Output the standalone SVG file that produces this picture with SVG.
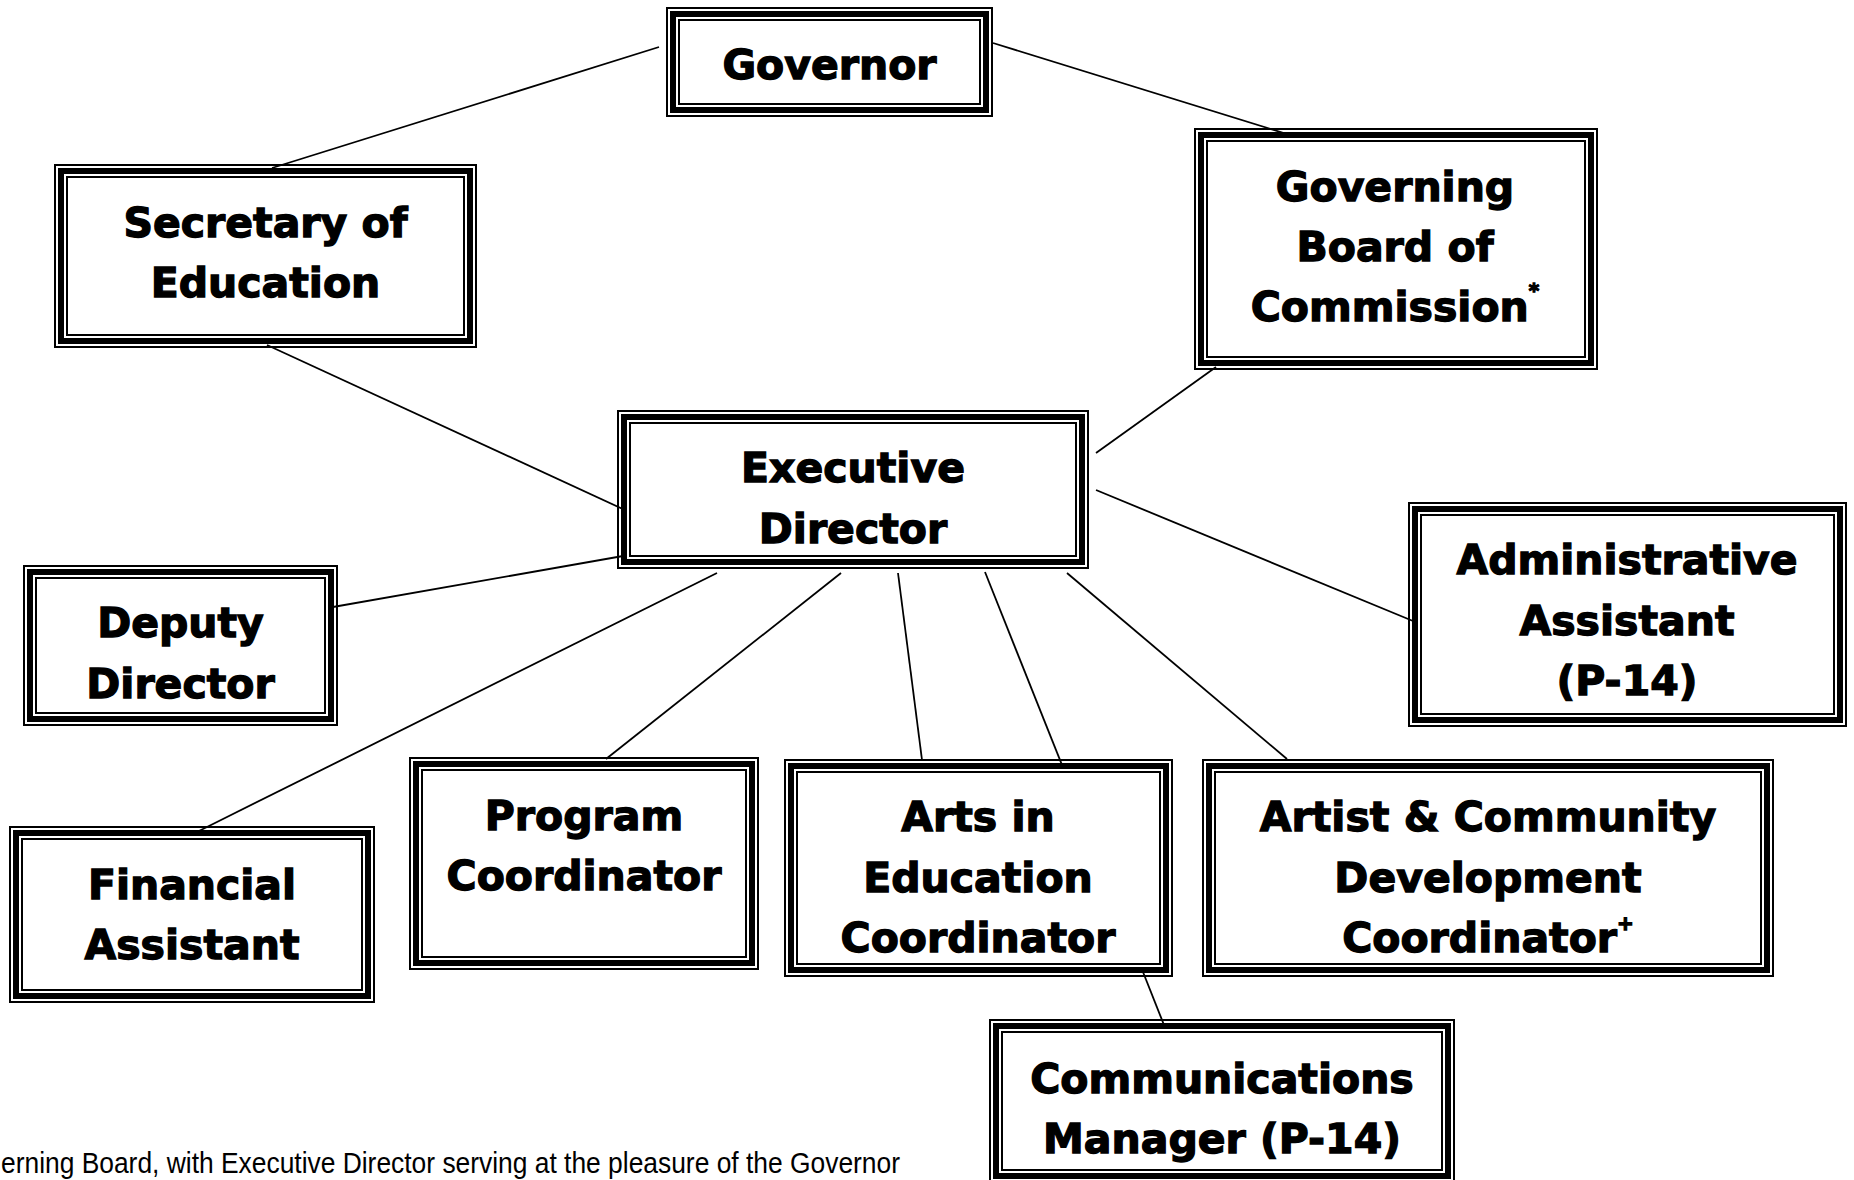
<svg xmlns="http://www.w3.org/2000/svg" width="1854" height="1180" viewBox="0 0 1854 1180">
<style>
.bg{fill:#fff;stroke:none}
.b1{fill:none;stroke:#000;stroke-width:2}
.b2{fill:none;stroke:#000;stroke-width:6}
.t{font-family:"DejaVu Sans","Liberation Sans",sans-serif;font-weight:bold;font-size:41px;fill:#000;stroke:#000;stroke-width:1.3;text-anchor:middle}
.sup{font-size:20px}
.c line{stroke:#000;stroke-width:1.8}
.note{font-family:"Liberation Sans Narrow","Liberation Sans",Arial,sans-serif;font-size:29px;fill:#000}
</style>
<rect width="1854" height="1180" fill="#fff"/>

<g id="gov">
<rect class="bg" x="666" y="7" width="327" height="110"/>
<rect class="b1" x="667" y="8" width="325" height="108"/>
<rect class="b2" x="673" y="14" width="313" height="96"/>
<rect class="b1" x="679" y="20" width="301" height="84"/>
<text class="t" x="829.5" y="79">Governor</text>
</g>

<g id="sec">
<rect class="bg" x="54" y="164" width="423" height="184"/>
<rect class="b1" x="55" y="165" width="421" height="182"/>
<rect class="b2" x="61" y="171" width="409" height="170"/>
<rect class="b1" x="67" y="177" width="397" height="158"/>
<text class="t" x="265.5" y="237">Secretary of</text>
<text class="t" x="265.5" y="297">Education</text>
</g>

<g id="board">
<rect class="bg" x="1194" y="128" width="404" height="242"/>
<rect class="b1" x="1195" y="129" width="402" height="240"/>
<rect class="b2" x="1201" y="135" width="390" height="228"/>
<rect class="b1" x="1207" y="141" width="378" height="216"/>
<text class="t" x="1395" y="201">Governing</text>
<text class="t" x="1395" y="261">Board of</text>
<text class="t" x="1395" y="321">Commission<tspan class="sup" dy="-24">*</tspan></text>
</g>

<g id="exec">
<rect class="bg" x="617" y="410" width="472" height="159"/>
<rect class="b1" x="618" y="411" width="470" height="157"/>
<rect class="b2" x="624" y="417" width="458" height="145"/>
<rect class="b1" x="630" y="423" width="446" height="133"/>
<text class="t" x="853" y="482">Executive</text>
<text class="t" x="853" y="543">Director</text>
</g>

<g id="deputy">
<rect class="bg" x="23" y="565" width="315" height="161"/>
<rect class="b1" x="24" y="566" width="313" height="159"/>
<rect class="b2" x="30" y="572" width="301" height="147"/>
<rect class="b1" x="36" y="578" width="289" height="135"/>
<text class="t" x="180.5" y="637">Deputy</text>
<text class="t" x="180.5" y="698">Director</text>
</g>

<g id="admin">
<rect class="bg" x="1408" y="502" width="439" height="225"/>
<rect class="b1" x="1409" y="503" width="437" height="223"/>
<rect class="b2" x="1415" y="509" width="425" height="211"/>
<rect class="b1" x="1421" y="515" width="413" height="199"/>
<text class="t" x="1627" y="574">Administrative</text>
<text class="t" x="1627" y="635">Assistant</text>
<text class="t" x="1627" y="695">(P-14)</text>
</g>

<g id="financial">
<rect class="bg" x="9" y="826" width="366" height="177"/>
<rect class="b1" x="10" y="827" width="364" height="175"/>
<rect class="b2" x="16" y="833" width="352" height="163"/>
<rect class="b1" x="22" y="839" width="340" height="151"/>
<text class="t" x="192" y="899">Financial</text>
<text class="t" x="192" y="959">Assistant</text>
</g>

<g id="program">
<rect class="bg" x="409" y="757" width="350" height="213"/>
<rect class="b1" x="410" y="758" width="348" height="211"/>
<rect class="b2" x="416" y="764" width="336" height="199"/>
<rect class="b1" x="422" y="770" width="324" height="187"/>
<text class="t" x="584" y="830">Program</text>
<text class="t" x="584" y="890">Coordinator</text>
</g>

<g id="arts">
<rect class="bg" x="784" y="759" width="389" height="218"/>
<rect class="b1" x="785" y="760" width="387" height="216"/>
<rect class="b2" x="791" y="766" width="375" height="204"/>
<rect class="b1" x="797" y="772" width="363" height="192"/>
<text class="t" x="978" y="831">Arts in</text>
<text class="t" x="978" y="892">Education</text>
<text class="t" x="978" y="952">Coordinator</text>
</g>

<g id="artist">
<rect class="bg" x="1202" y="759" width="572" height="218"/>
<rect class="b1" x="1203" y="760" width="570" height="216"/>
<rect class="b2" x="1209" y="766" width="558" height="204"/>
<rect class="b1" x="1215" y="772" width="546" height="192"/>
<text class="t" x="1488" y="831">Artist &amp; Community</text>
<text class="t" x="1488" y="892">Development</text>
<text class="t" x="1488" y="952">Coordinator<tspan class="sup" dy="-22">+</tspan></text>
</g>

<g id="comm">
<rect class="bg" x="989" y="1019" width="466" height="164"/>
<rect class="b1" x="990" y="1020" width="464" height="162"/>
<rect class="b2" x="996" y="1026" width="452" height="150"/>
<rect class="b1" x="1002" y="1032" width="440" height="138"/>
<text class="t" x="1222" y="1093">Communications</text>
<text class="t" x="1222" y="1153">Manager (P-14)</text>
</g>

<g id="connectors" class="c">
<line x1="659" y1="47" x2="272" y2="168"/>
<line x1="993" y1="43" x2="1290" y2="135"/>
<line x1="267" y1="345" x2="625" y2="510"/>
<line x1="1216" y1="367" x2="1096" y2="453"/>
<line x1="1096" y1="490" x2="1413" y2="621"/>
<line x1="623" y1="556" x2="333" y2="607"/>
<line x1="717" y1="573" x2="197" y2="832"/>
<line x1="841" y1="573" x2="606" y2="759"/>
<line x1="898" y1="573" x2="922" y2="760"/>
<line x1="985" y1="572" x2="1062" y2="765"/>
<line x1="1067" y1="573" x2="1287" y2="759"/>
<line x1="1143" y1="972" x2="1164" y2="1025"/>
</g>

<text class="note" x="1" y="1173" textLength="899" lengthAdjust="spacingAndGlyphs">erning Board, with Executive Director serving at the pleasure of the Governor</text>
</svg>
